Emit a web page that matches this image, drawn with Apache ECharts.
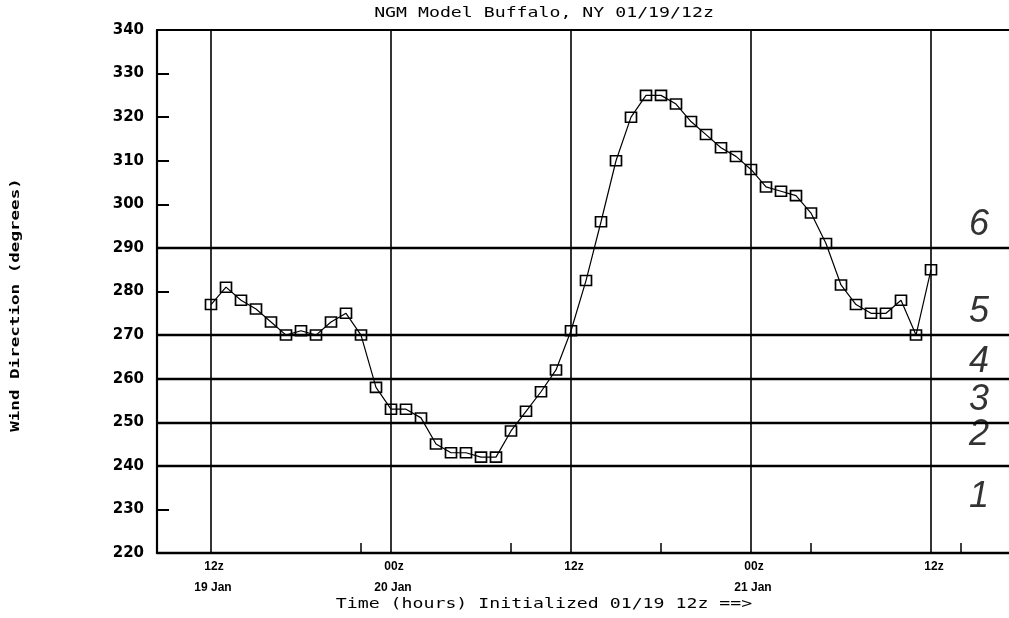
<!DOCTYPE html>
<html><head><meta charset="utf-8">
<script src="https://cdn.jsdelivr.net/npm/echarts@6/dist/echarts.min.js"></script>
<style>html,body{margin:0;padding:0;background:#fff}#c{width:1009px;height:618px}</style>
</head><body><div id="c"></div>
<script>
// ---- data ----
const hours = [0,1,2,3,4,5,6,7,8,9,10,11,12,13,14,15,16,17,18,19,20,21,22,23,24,25,26,27,28,29,30,31,32,33,34,35,36,37,38,39,40,41,42,43,44,45,46,47,48];
const windDir = [277,281,278,276,273,270,271,270,273,275,270,258,253,253,251,245,243,243,242,242,248,252.5,257,262,271,282.5,296,310,320,325,325,323,319,316,313,311,308,304,303,302,298,291,281.5,277,275,275,278,270,285];
const timeLines = [0,12,24,36,48];
const timeLabels = ['12z','00z','12z','00z','12z'];
const dateLabels = ['19 Jan','20 Jan','','21 Jan',''];
const minorTicks = [10,20,30,40,50];
const bandLines = [240,250,260,270,290];
const zoneLabels = ['1','2','3','4','5','6'];
const zoneValues = [232.8,247.1,255.1,263.8,275.3,295.3];
const zoneHour = 51.2;
const titleText = 'NGM Model Buffalo, NY 01/19/12z';
const xName = 'Time (hours) Initialized 01/19 12z ==>';
const yName = 'Wind Direction (degrees)';

const chart = echarts.init(document.getElementById('c'), null, {renderer:'canvas'});
const lineData = hours.map((h,i)=>[h, windDir[i]]);
const zoneData = zoneLabels.map((t,i)=>[zoneHour, zoneValues[i], t]);

const markData = [];
bandLines.forEach(v=>markData.push({yAxis:v, lineStyle:{width:2.4,color:'#000',type:'solid'}}));
timeLines.forEach(v=>markData.push({xAxis:v, lineStyle:{width:1.6,color:'#000',type:'solid'}}));

chart.setOption({
  animation:false,
  backgroundColor:'#fff',
  grid:{left:157, top:30, width:852, height:523, containLabel:false},
  xAxis:[{
    type:'value', min:-3.6, max:53.2, position:'bottom',
    axisLine:{show:true, onZero:false, lineStyle:{color:'#000', width:2.4}},
    axisTick:{show:true, inside:true, length:10, customValues:minorTicks, lineStyle:{color:'#000', width:1.5}},
    splitLine:{show:false},
    axisLabel:{
      customValues:timeLines, margin:3,
      formatter:function(v){
        const i = timeLines.indexOf(v);
        if(i<0) return '';
        return '{t|'+timeLabels[i]+'}\n{d|'+(dateLabels[i]||' ')+'}';
      },
      rich:{
        t:{fontFamily:'Liberation Sans', fontWeight:'bold', fontSize:12, color:'#000', lineHeight:21, padding:[0,0,0,6]},
        d:{fontFamily:'Liberation Sans', fontWeight:'bold', fontSize:12, color:'#000', lineHeight:21, padding:[0,0,0,4]}
      }
    }
  },{
    type:'value', min:-3.6, max:53.2, position:'top',
    axisLine:{show:true, onZero:false, lineStyle:{color:'#000', width:2.2}},
    axisTick:{show:false}, axisLabel:{show:false}, splitLine:{show:false}
  }],
  yAxis:{
    type:'value', min:220, max:340, interval:10, position:'left',
    axisLine:{show:true, onZero:false, lineStyle:{color:'#000', width:2.2}},
    axisTick:{show:true, inside:true, length:12, lineStyle:{color:'#000', width:2}},
    splitLine:{show:false},
    axisLabel:{margin:13, fontFamily:'DejaVu Sans', fontWeight:'bold', fontSize:15, color:'#000'}
  },
  series:[{
    type:'line', data:lineData, xAxisIndex:0,
    symbol:'rect', symbolSize:[11,10],
    itemStyle:{color:'rgba(0,0,0,0)', borderColor:'#000', borderWidth:1.6},
    lineStyle:{color:'#000', width:1.2},
    z:5,
    markLine:{silent:true, symbol:['none','none'], label:{show:false}, data:markData, animation:false}
  },{
    type:'scatter', data:zoneData, symbolSize:0, xAxisIndex:0,
    label:{show:true, position:'inside', formatter:p=>p.data[2],
      fontFamily:'Liberation Sans', fontStyle:'italic', fontSize:36, color:'#000'}
  }],
  graphic:[
    {type:'text', x:544, y:13, scaleX:1.3, style:{text:titleText, fontFamily:'DejaVu Sans Mono', fontSize:14, fill:'#000', textAlign:'center', textVerticalAlign:'middle'}},
    {type:'text', x:544, y:604, scaleX:1.3, style:{text:xName, fontFamily:'DejaVu Sans Mono', fontSize:14, fill:'#000', textAlign:'center', textVerticalAlign:'middle'}},
    {type:'text', x:16, y:305, rotation:Math.PI/2, scaleX:1.35, style:{text:yName, fontFamily:'DejaVu Sans Mono', fontWeight:'bold', fontSize:13, fill:'#000', textAlign:'center', textVerticalAlign:'middle'}}
  ]
});
</script></body></html>
